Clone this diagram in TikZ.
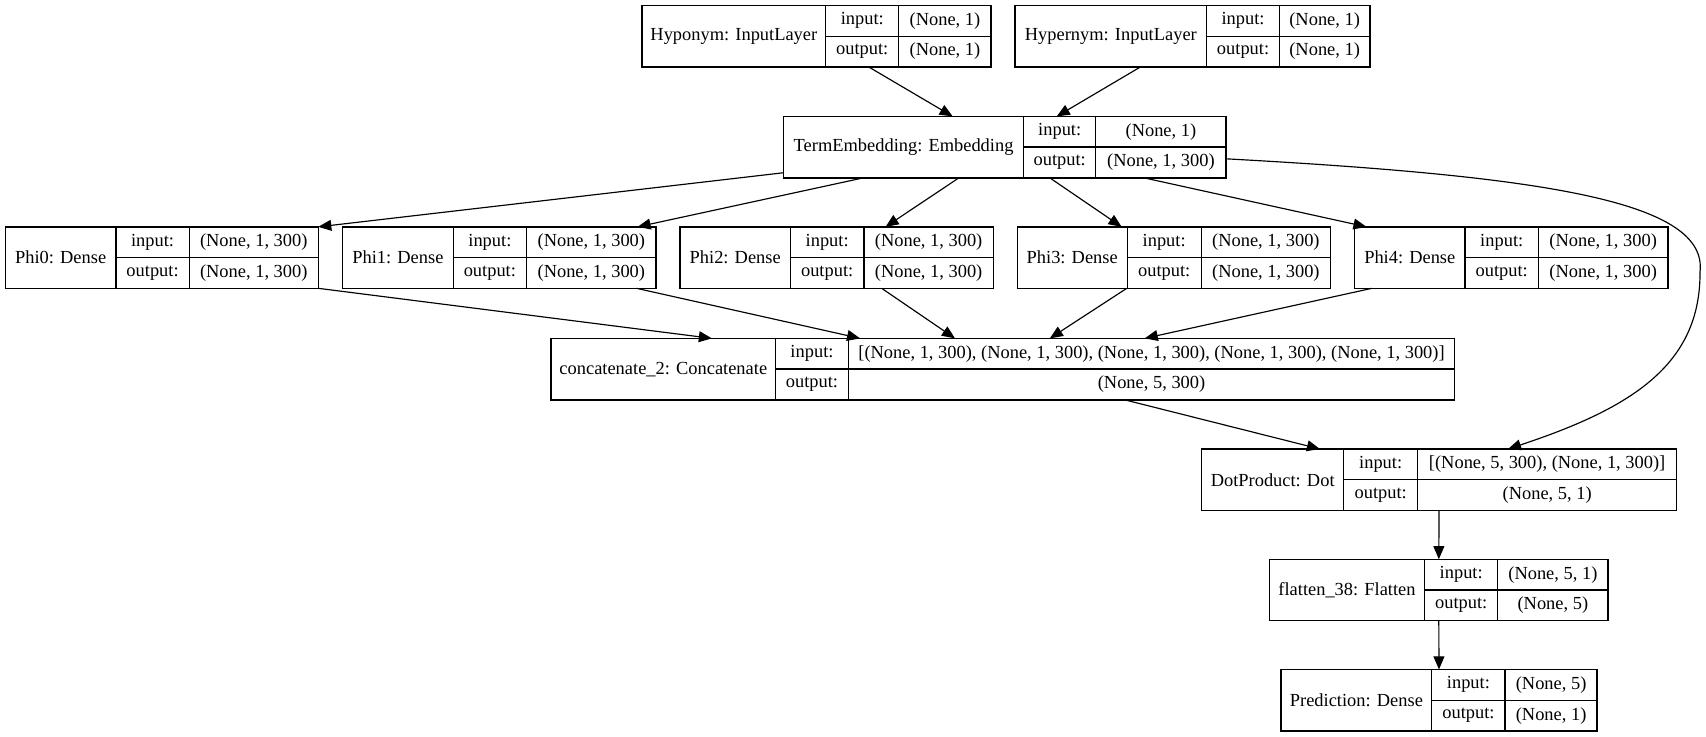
\documentclass[tikz,border=0pt]{standalone}
\usepackage{fontspec}
\setmainfont{Liberation Serif}
\usetikzlibrary{arrows.meta,calc}
\tikzset{
  layerbox/.style={draw, line width=1pt, inner sep=0pt, outer sep=0pt, minimum height=42.375pt},
  celline/.style={line width=0.9pt},
  lbl/.style={inner sep=0pt, font=\fontsize{12.7}{15}\selectfont},
  arr/.style={line width=0.8pt, -{Triangle[length=9pt,width=7.5pt]}},
}
% #1 name, #2 left, #3 divider 1, #4 divider 2, #5 right, #6 top, #7 title, #8 input, #9 output
\newcommand{\klayer}[9]{%
  \node[layerbox, minimum width={(#5-(#2))*0.75pt}, anchor=north west] (#1) at (#2,#6) {};
  \draw[celline] (#3,#6) -- (#3,{#6+56.5});
  \draw[celline] (#4,#6) -- (#4,{#6+56.5});
  \draw[celline] (#3,{#6+28.25}) -- (#5,{#6+28.25});
  \node[lbl] (#1-t) at ({(#2+#3)/2},{#6+28.25}) {#7};
  \node[lbl] (#1-il) at ({(#3+#4)/2},{#6+14.1}) {input:};
  \node[lbl] (#1-ol) at ({(#3+#4)/2},{#6+42.4}) {output:};
  \node[lbl] (#1-iv) at ({(#4+#5)/2},{#6+14.1}) {#8};
  \node[lbl] (#1-ov) at ({(#4+#5)/2},{#6+42.4}) {#9};
}
\begin{document}
\begin{tikzpicture}[x=0.75pt, y=-0.75pt]
\useasboundingbox[fill=white] (0,0) rectangle (1568,677);

\klayer{hypo}{590}{759}{826}{911}{5}{Hyponym: InputLayer}{(None, 1)}{(None, 1)}
\klayer{hyper}{933}{1109}{1176}{1259}{5}{Hypernym: InputLayer}{(None, 1)}{(None, 1)}
\klayer{te}{720}{941}{1007}{1127}{107}{TermEmbedding: Embedding}{(None, 1)}{(None, 1, 300)}
\klayer{phi0}{5}{106.5}{174}{292.5}{208.5}{Phi0: Dense}{(None, 1, 300)}{(None, 1, 300)}
\klayer{phi1}{315}{416.5}{484}{603}{208.5}{Phi1: Dense}{(None, 1, 300)}{(None, 1, 300)}
\klayer{phi2}{625}{726.5}{794}{913}{208.5}{Phi2: Dense}{(None, 1, 300)}{(None, 1, 300)}
\klayer{phi3}{935}{1036}{1104}{1223}{208.5}{Phi3: Dense}{(None, 1, 300)}{(None, 1, 300)}
\klayer{phi4}{1245}{1346.5}{1414}{1533}{208.5}{Phi4: Dense}{(None, 1, 300)}{(None, 1, 300)}
\klayer{concat}{506.5}{712.8}{779.8}{1337}{311}{concatenate\_2: Concatenate}{[(None, 1, 300), (None, 1, 300), (None, 1, 300), (None, 1, 300), (None, 1, 300)]}{(None, 5, 300)}
\klayer{dot}{1104.5}{1235}{1303}{1541}{412.7}{DotProduct: Dot}{[(None, 5, 300), (None, 1, 300)]}{(None, 5, 1)}
\klayer{flat}{1166.6}{1309.5}{1376.5}{1478}{514}{flatten\_38: Flatten}{(None, 5, 1)}{(None, 5)}
\klayer{pred}{1177.4}{1316}{1383.3}{1468}{615.3}{Prediction: Dense}{(None, 5)}{(None, 1)}

% inputs to embedding
\draw[arr] (hypo) -- (te);
\draw[arr] (hyper) -- (te);
% embedding to dense layers
\draw[arr] (te) -- (phi0.north east);
\draw[arr] (te) -- ($(phi1.north west)!0.941!(phi1.north east)$);
\draw[arr] (te) -- ($(phi2.north west)!0.656!(phi2.north east)$);
\draw[arr] (te) -- ($(phi3.north west)!0.333!(phi3.north east)$);
\draw[arr] (te) -- ($(phi4.north west)!0.038!(phi4.north east)$);
% dense layers to concatenate
\draw[arr] (phi0.south east) -- ($(concat.north west)!0.178!(concat.north east)$);
\draw[arr] (phi1) -- ($(concat.north west)!0.342!(concat.north east)$);
\draw[arr] (phi2) -- ($(concat.north west)!0.447!(concat.north east)$);
\draw[arr] (phi3) -- ($(concat.north west)!0.552!(concat.north east)$);
\draw[arr] (phi4) -- ($(concat.north west)!0.657!(concat.north east)$);
% to dot product
\draw[arr] (concat) -- ($(dot.north west)!0.249!(dot.north east)$);
\draw[arr] ($(te.south east)!0.31!(te.north east)$) .. controls (1420,162) and (1570,185) .. (1562.5,250)
  .. controls (1563,335) and (1500,375) .. ($(dot.north west)!0.645!(dot.north east)$);
% tail
\draw[arr] (dot) -- (flat);
\draw[arr] (flat) -- (pred);
\end{tikzpicture}
\end{document}
